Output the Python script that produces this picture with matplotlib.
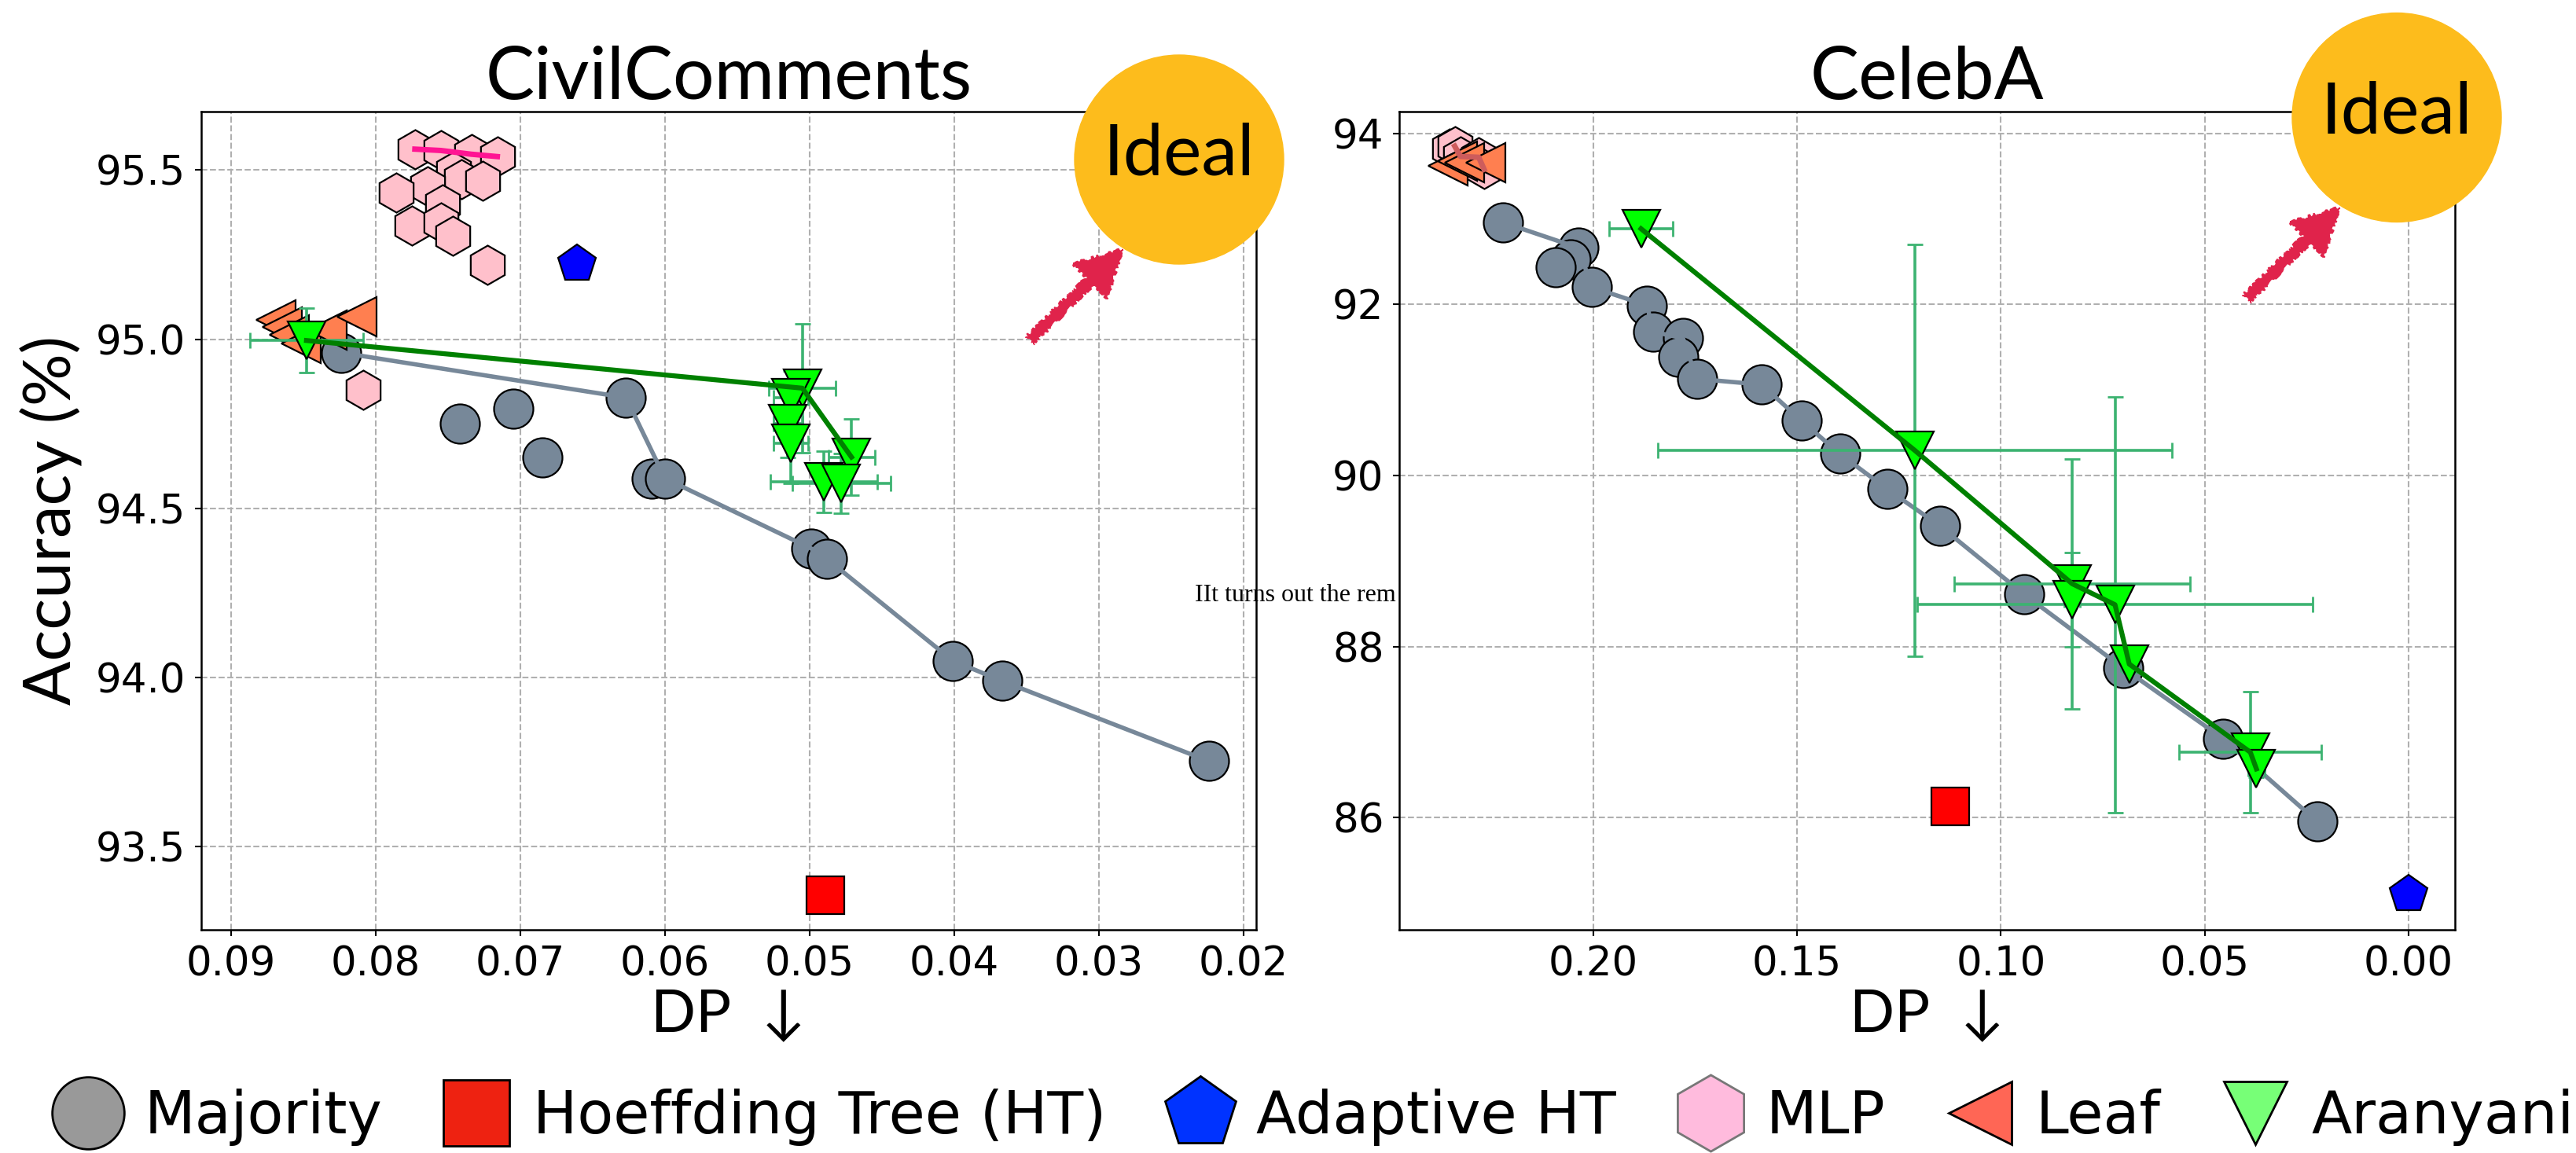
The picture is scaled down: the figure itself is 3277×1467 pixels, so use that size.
import matplotlib.pyplot as plt
from matplotlib.lines import Line2D
from matplotlib.patches import Circle, FancyArrow

# ---- CivilComments (left) ----
cc_maj_dp = [0.0824, 0.0742, 0.0705, 0.0685, 0.0627, 0.0609, 0.0600, 0.0499, 0.0488, 0.0401, 0.0367, 0.0224]
cc_maj_acc = [94.96, 94.75, 94.795, 94.65, 94.827, 94.588, 94.588, 94.381, 94.35, 94.049, 93.989, 93.752]
cc_ht_dp, cc_ht_acc = [0.0489], [93.355]
cc_aht_dp, cc_aht_acc = [0.0661], [95.221]
cc_mlp_dp = [0.0773, 0.0755, 0.0734, 0.0716, 0.0746, 0.0741, 0.0726, 0.0764, 0.0786, 0.0754,
             0.0775, 0.0755, 0.0747, 0.0723, 0.0809]
cc_mlp_acc = [95.562, 95.558, 95.547, 95.540, 95.496, 95.473, 95.469, 95.452, 95.434, 95.399,
              95.337, 95.345, 95.306, 95.22, 94.849]
cc_leaf_dp = [0.0869, 0.0865, 0.0860, 0.0852, 0.0834, 0.0813]
cc_leaf_acc = [95.058, 95.035, 95.012, 94.988, 95.027, 95.066]
cc_ara_dp = [0.0848, 0.0505, 0.0513, 0.0515, 0.0513, 0.0471, 0.0490, 0.0478]
cc_ara_acc = [94.996, 94.855, 94.826, 94.749, 94.693, 94.651, 94.578, 94.573]
cc_ara_xerr = [0.0039, 0.0023, 0.0012, 0.0010, 0.0012, 0.0016, 0.0037, 0.0034]
cc_ara_yerr = [0.095, 0.19, 0.08, 0.10, 0.12, 0.113, 0.09, 0.088]

# ---- CelebA (right) ----
ce_maj_dp = [0.2221, 0.2036, 0.2055, 0.2093, 0.2004, 0.1868, 0.1853, 0.1780, 0.1792, 0.1746,
             0.1587, 0.1489, 0.1395, 0.1279, 0.1150, 0.0943, 0.0700, 0.0454, 0.0224]
ce_maj_acc = [92.958, 92.661, 92.524, 92.438, 92.202, 91.988, 91.681, 91.605, 91.391, 91.13,
              91.063, 90.64, 90.253, 89.842, 89.412, 88.612, 87.75, 86.922, 85.955]
ce_ht_dp, ce_ht_acc = [0.1124], [86.13]
ce_aht_dp, ce_aht_acc = [0.0], [85.105]
ce_mlp_dp = [0.2352, 0.2340, 0.2326, 0.2281, 0.2268]
ce_mlp_acc = [93.82, 93.85, 93.73, 93.72, 93.58]
ce_leaf_dp = [0.2357, 0.2333, 0.2317, 0.2264]
ce_leaf_acc = [93.624, 93.672, 93.657, 93.657]
ce_ara_dp = [0.1883, 0.1211, 0.0825, 0.0825, 0.0720, 0.0685, 0.0388, 0.0373]
ce_ara_acc = [92.885, 90.293, 88.735, 88.55, 88.49, 87.796, 86.766, 86.57]
ce_ara_xerr = [0.0078, 0.063, 0.029, 0.002, 0.0485, 0.002, 0.0175, 0.002]
ce_ara_yerr = [0.05, 2.41, 1.46, 0.55, 2.43, 0.10, 0.71, 0.10]

cc_xticks = [0.09, 0.08, 0.07, 0.06, 0.05, 0.04, 0.03, 0.02]
cc_yticks = [93.5, 94.0, 94.5, 95.0, 95.5]
ce_xticks = [0.20, 0.15, 0.10, 0.05, 0.00]
ce_yticks = [86, 88, 90, 92, 94]

HEAD = 'Lato'
MS = 36


def pareto(dp, acc):
    # lower DP and higher accuracy are better
    pts = sorted(zip(dp, acc), key=lambda p: (-p[1], p[0]))
    fx, fy, best = [], [], float('inf')
    for x, y in pts:
        if x < best:
            fx.append(x)
            fy.append(y)
            best = x
    return fx, fy


def panel(ax, d, title, xlim, ylim, xticks, yticks, xfmt, yfmt, mlp_line):
    ax.set_axisbelow(True)
    ax.grid(True, ls='--', color='#b0b0b0', lw=1.5)

    ax.plot(d['maj'][0], d['maj'][1], 'o', ms=MS, mfc='lightslategray', mec='black', mew=1.6, zorder=3)
    fx, fy = pareto(*d['maj'])
    ax.plot(fx, fy, '-', color='lightslategray', lw=4, zorder=4)

    ax.plot(d['ht'][0], d['ht'][1], 's', ms=MS - 1, mfc='red', mec='black', mew=1.6, zorder=3)
    ax.plot(d['aht'][0], d['aht'][1], 'p', ms=MS, mfc='blue', mec='black', mew=1.6, zorder=3)

    ax.plot(d['mlp'][0], d['mlp'][1], 'h', ms=MS, mfc='pink', mec='black', mew=1.6, zorder=3)
    ax.plot(d['leaf'][0], d['leaf'][1], '<', ms=MS, mfc='coral', mec='black', mew=1.6, zorder=5)
    fx, fy = pareto(*d['mlp'])
    ax.plot(fx, fy, '-', color=mlp_line, lw=5, zorder=5.5)

    ax.errorbar(d['ara'][0], d['ara'][1], xerr=d['ara'][2], yerr=d['ara'][3], fmt='none',
                ecolor='mediumseagreen', elinewidth=2.6, capsize=7, capthick=2, zorder=6)
    ax.plot(d['ara'][0], d['ara'][1], 'v', ms=MS - 2, mfc='lime', mec='black', mew=1.6, zorder=7)
    fx, fy = pareto(d['ara'][0], d['ara'][1])
    ax.plot(fx, fy, '-', color='green', lw=4.5, zorder=8)

    ax.set_xlim(*xlim)
    ax.set_ylim(*ylim)
    ax.set_xticks(xticks)
    ax.set_xticklabels([xfmt % t for t in xticks])
    ax.set_yticks(yticks)
    ax.set_yticklabels([yfmt % t for t in yticks])
    ax.tick_params(labelsize=37, length=6, width=1.5, pad=8)
    for s in ax.spines.values():
        s.set_linewidth(1.8)
    ax.set_title(title, fontsize=67, family=HEAD, pad=10)
    ax.set_xlabel('DP  \u2193', fontsize=54, family=[HEAD, 'DejaVu Sans'])
    ax.xaxis.set_label_coords(0.5, -0.07)


fig = plt.figure(figsize=(32.77, 14.67), dpi=100)
ax1 = fig.add_axes([0.078, 0.1936, 0.4097, 0.7096])
ax2 = fig.add_axes([0.5432, 0.1936, 0.4098, 0.7096])

cc = {'maj': (cc_maj_dp, cc_maj_acc), 'ht': (cc_ht_dp, cc_ht_acc), 'aht': (cc_aht_dp, cc_aht_acc),
      'mlp': (cc_mlp_dp, cc_mlp_acc), 'leaf': (cc_leaf_dp, cc_leaf_acc),
      'ara': (cc_ara_dp, cc_ara_acc, cc_ara_xerr, cc_ara_yerr)}
ce = {'maj': (ce_maj_dp, ce_maj_acc), 'ht': (ce_ht_dp, ce_ht_acc), 'aht': (ce_aht_dp, ce_aht_acc),
      'mlp': (ce_mlp_dp, ce_mlp_acc), 'leaf': (ce_leaf_dp, ce_leaf_acc),
      'ara': (ce_ara_dp, ce_ara_acc, ce_ara_xerr, ce_ara_yerr)}

panel(ax1, cc, 'CivilComments', (0.0921, 0.0191), (93.253, 95.673),
      cc_xticks, cc_yticks, '%.2f', '%.1f', 'deeppink')
panel(ax2, ce, 'CelebA', (0.2476, -0.0114), (84.69, 94.254),
      ce_xticks, ce_yticks, '%.2f', '%d', 'indianred')

ax1.set_ylabel('Accuracy (%)', fontsize=60, family=HEAD)
ax1.yaxis.set_label_coords(-0.112, 0.5)

# stray caption fragment, hidden under the right panel
ax1.text(1520 / 3277, 1 - 757 / 1467, 'IIt turns out the rem', transform=fig.transFigure,
         family='Liberation Serif', fontsize=23, va='center', ha='left', clip_on=False, zorder=2)

# "Ideal" badges and hand-drawn arrows (figure inches)
for cx, cy, tx, ty in [(15.00, 12.64, 13.10, 10.34), (30.49, 13.175, 28.58, 10.87)]:
    arr = FancyArrow(tx, ty, 1.18, 1.16, width=0.13, head_width=0.62, head_length=0.58,
                     length_includes_head=True, color='#e0234b', transform=fig.dpi_scale_trans)
    arr.set_sketch_params(scale=2, length=20, randomness=30)
    fig.add_artist(arr)
    fig.add_artist(Circle((cx, cy), 1.33, color='#fdbc1c', transform=fig.dpi_scale_trans, zorder=10))
    fig.text(cx / 32.77, cy / 14.67 + 0.004, 'Ideal', fontsize=66, family=HEAD,
             ha='center', va='center', color='black', zorder=11)

handles = [
    Line2D([], [], ls='none', marker='o', ms=66, mfc='#999999', mec='black', mew=2, label='Majority'),
    Line2D([], [], ls='none', marker='s', ms=60, mfc='#ee2211', mec='black', mew=2, label='Hoeffding Tree (HT)'),
    Line2D([], [], ls='none', marker='p', ms=68, mfc='#0033ff', mec='black', mew=2, label='Adaptive HT'),
    Line2D([], [], ls='none', marker='h', ms=70, mfc='#ffbbdd', mec='#777777', mew=2, label='MLP'),
    Line2D([], [], ls='none', marker='<', ms=58, mfc='#ff6655', mec='black', mew=2, label='Leaf'),
    Line2D([], [], ls='none', marker='v', ms=58, mfc='#77ff77', mec='black', mew=2, label='Aranyani'),
]
fig.legend(handles=handles, loc='center', bbox_to_anchor=(0.511, 0.031), ncol=6, frameon=False,
           prop={'family': 'DejaVu Sans', 'size': 54}, handlelength=1.0, handletextpad=0.45,
           columnspacing=1.1, borderpad=0)

fig.savefig('out.png', dpi=100)
